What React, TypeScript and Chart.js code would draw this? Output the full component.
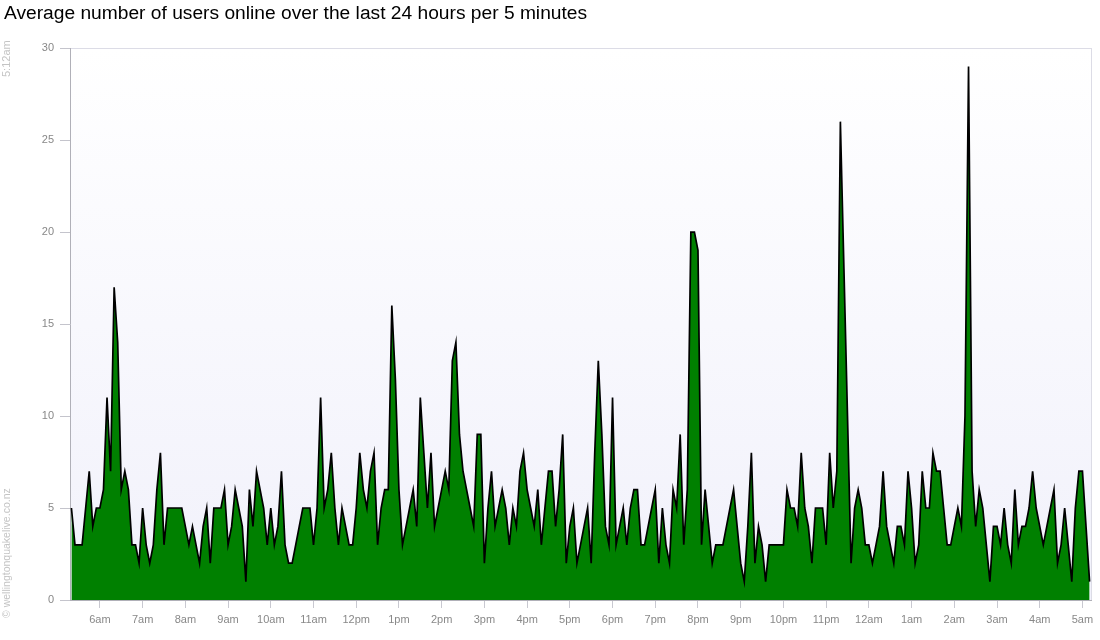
import { useEffect, useRef } from 'react'
import { Chart, registerables } from 'chart.js'

Chart.register(...registerables)

const FONT = '"Liberation Sans", Arial, sans-serif'
const TITLE = 'Average number of users online over the last 24 hours per 5 minutes'
const GENERATED_AT = '5:12am'
const CREDIT = '\u00a9 wellingtonquakelive.co.nz'

// first sample 5:20am, one sample every 5 minutes until 5:10am next day
const START_MINUTE = 320
const STEP_MINUTES = 5
const USERS = [
  5, 3, 3, 3, 5, 7, 4, 5, 5, 6,
  11, 7, 17, 14, 6, 7, 6, 3, 3, 2,
  5, 3, 2, 3, 6, 8, 3, 5, 5, 5,
  5, 5, 4, 3, 4, 3, 2, 4, 5, 2,
  5, 5, 5, 6, 3, 4, 6, 5, 4, 1,
  6, 4, 7, 6, 5, 3, 5, 3, 4, 7,
  3, 2, 2, 3, 4, 5, 5, 5, 3, 5,
  11, 5, 6, 8, 5, 3, 5, 4, 3, 3,
  5, 8, 6, 5, 7, 8, 3, 5, 6, 6,
  16, 12, 6, 3, 4, 5, 6, 4, 11, 8,
  5, 8, 4, 5, 6, 7, 6, 13, 14, 9,
  7, 6, 5, 4, 9, 9, 2, 5, 7, 4,
  5, 6, 5, 3, 5, 4, 7, 8, 6, 5,
  4, 6, 3, 5, 7, 7, 4, 6, 9, 2,
  4, 5, 2, 3, 4, 5, 2, 8, 13, 9,
  4, 3, 11, 3, 4, 5, 3, 5, 6, 6,
  3, 3, 4, 5, 6, 2, 5, 3, 2, 6,
  5, 9, 3, 6, 20, 20, 19, 3, 6, 4,
  2, 3, 3, 3, 4, 5, 6, 4, 2, 1,
  4, 8, 2, 4, 3, 1, 3, 3, 3, 3,
  3, 6, 5, 5, 4, 8, 5, 4, 2, 5,
  5, 5, 3, 8, 5, 7, 26, 18, 10, 2,
  5, 6, 5, 3, 3, 2, 3, 4, 7, 4,
  3, 2, 4, 4, 3, 7, 5, 2, 3, 7,
  5, 5, 8, 7, 7, 5, 3, 3, 4, 5,
  4, 10, 29, 7, 4, 6, 5, 3, 1, 4,
  4, 3, 5, 3, 2, 6, 3, 4, 4, 5,
  7, 5, 4, 3, 4, 5, 6, 2, 3, 5,
  3, 1, 5, 7, 7, 4, 1,
]

const FIRST_HOUR_MINUTE = 360 // 6am
const HOUR_LABELS = [
  '6am', '7am', '8am', '9am', '10am', '11am', '12pm', '1pm', '2pm', '3pm', '4pm', '5pm',
  '6pm', '7pm', '8pm', '9pm', '10pm', '11pm', '12am', '1am', '2am', '3am', '4am', '5am',
]
const Y_MAX = 30
const Y_STEP = 5

const plotDecor = {
  id: 'plotDecor',
  beforeDraw(chart: any) {
    const { ctx, chartArea: a } = chart
    const g = ctx.createLinearGradient(0, a.top, 0, a.bottom)
    g.addColorStop(0, '#ffffff')
    g.addColorStop(1, '#f1f1fb')
    ctx.save()
    ctx.fillStyle = g
    ctx.fillRect(a.left, a.top, a.right - a.left, a.bottom - a.top)
    ctx.restore()
  },
  afterDraw(chart: any) {
    const { ctx, chartArea: a } = chart
    ctx.save()
    ctx.strokeStyle = '#dcdce6'
    ctx.lineWidth = 1
    ctx.beginPath()
    ctx.moveTo(Math.round(a.right) + 0.5, a.top)
    ctx.lineTo(Math.round(a.right) + 0.5, a.bottom)
    ctx.stroke()

    // rotated side notes
    ctx.fillStyle = '#c4c4c4'
    ctx.textAlign = 'left'
    ctx.textBaseline = 'middle'
    ctx.font = `11px ${FONT}`
    ctx.translate(7, 77)
    ctx.rotate(-Math.PI / 2)
    ctx.fillText(GENERATED_AT, 0, 0)
    ctx.setTransform(1, 0, 0, 1, 0, 0)
    ctx.scale(chart.currentDevicePixelRatio, chart.currentDevicePixelRatio)
    ctx.font = `10.5px ${FONT}`
    ctx.translate(7, 618)
    ctx.rotate(-Math.PI / 2)
    ctx.fillText(CREDIT, 0, 0)
    ctx.restore()
  },
}

export default function App() {
  const canvasRef = useRef<HTMLCanvasElement>(null)

  useEffect(() => {
    if (!canvasRef.current) return
    const chart = new Chart(canvasRef.current, {
      type: 'line',
      data: {
        datasets: [{
          data: USERS.map((v, i) => ({ x: START_MINUTE + i * STEP_MINUTES, y: v })),
          fill: 'origin',
          backgroundColor: '#008000',
          borderColor: '#000000',
          borderWidth: 1.7,
          pointRadius: 0,
          tension: 0,
        }],
      },
      options: {
        responsive: true,
        maintainAspectRatio: false,
        animation: false,
        layout: { padding: { left: 4, right: 9, top: 0, bottom: 0 } },
        plugins: {
          legend: { display: false },
          tooltip: { enabled: false },
          title: {
            display: true,
            text: TITLE,
            align: 'start',
            color: '#000',
            font: { family: FONT, size: 19.2, weight: 'normal', lineHeight: 1.2 },
            padding: { top: 2.5, bottom: 22.5 },
          },
        },
        scales: {
          x: {
            type: 'linear',
            min: 318,
            max: 1752,
            afterBuildTicks: (axis: any) => {
              axis.ticks = HOUR_LABELS.map((_, k) => ({ value: FIRST_HOUR_MINUTE + 60 * k }))
            },
            afterFit: (scale: any) => { scale.height = 40 },
            ticks: {
              autoSkip: false,
              maxRotation: 0,
              padding: 5,
              color: '#888',
              font: { family: FONT, size: 11 },
              callback: (_v: any, i: number) => HOUR_LABELS[i],
            },
            grid: { drawOnChartArea: false, tickLength: 8, tickColor: '#c8c8d0' },
            border: { color: '#b0b0b8' },
          },
          y: {
            min: 0,
            max: Y_MAX,
            afterFit: (scale: any) => { scale.width = 66 },
            ticks: {
              stepSize: Y_STEP,
              padding: 6,
              color: '#888',
              font: { family: FONT, size: 11 },
            },
            grid: {
              color: (c: any) => (c.tick && c.tick.value === Y_MAX ? '#dcdce6' : 'rgba(0,0,0,0)'),
              tickColor: '#c4c4cc',
              tickLength: 10,
            },
            border: { color: '#b0b0b8' },
          },
        },
      },
      plugins: [plotDecor],
    })
    return () => chart.destroy()
  }, [])

  return (
    <div style={{ position: 'absolute', left: 0, top: 0, width: 1100, height: 640, background: '#fff' }}>
      <canvas ref={canvasRef} />
    </div>
  )
}
